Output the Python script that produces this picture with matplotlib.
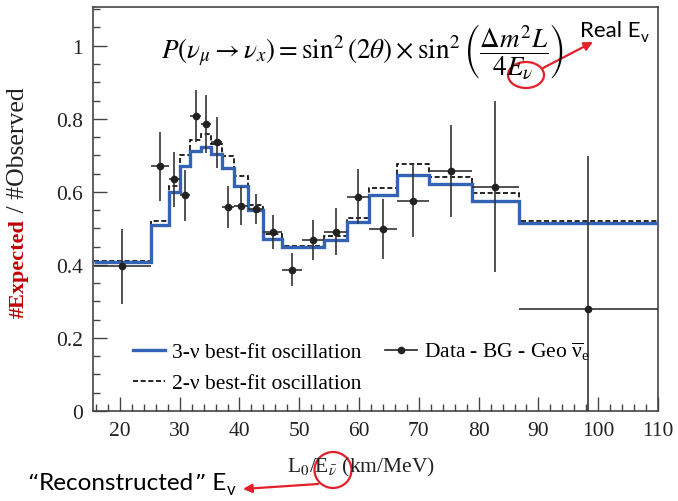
import matplotlib
matplotlib.use("Agg")
import matplotlib.pyplot as plt
from matplotlib.lines import Line2D
from matplotlib.patches import Ellipse, FancyArrowPatch
from matplotlib.ticker import MultipleLocator, FuncFormatter
import numpy as np

plt.rcParams["font.family"] = ["Liberation Serif", "DejaVu Serif"]
plt.rcParams["mathtext.fontset"] = "stix"

W, H = 678, 502

# L0/E bins (km/MeV) with the best-fit predictions and the measured ratio
bin_edges = [15.6, 25.2, 28.2, 30.0, 31.8, 33.6, 35.3, 37.1, 39.0, 41.5, 44.0,
             47.1, 50.5, 54.2, 58.0, 61.7, 66.4, 71.7, 78.9, 86.7, 110.0]
fit_3nu = [0.409, 0.508, 0.599, 0.670, 0.713, 0.724, 0.704, 0.665, 0.617, 0.551,
           0.471, 0.448, 0.448, 0.469, 0.517, 0.590, 0.647, 0.622, 0.576, 0.514]
fit_2nu = [0.412, 0.519, 0.617, 0.701, 0.742, 0.759, 0.732, 0.698, 0.642, 0.563,
           0.485, 0.452, 0.452, 0.479, 0.529, 0.611, 0.675, 0.640, 0.596, 0.521]
data_ratio = [0.396, 0.670, 0.634, 0.590, 0.807, 0.786, 0.736, 0.558, 0.561, 0.553,
              0.490, 0.387, 0.468, 0.491, 0.587, 0.499, 0.576, 0.658, 0.614, 0.278]
data_err = [0.103, 0.094, 0.076, 0.071, 0.071, 0.080, 0.070, 0.057, 0.053, 0.042,
            0.046, 0.046, 0.054, 0.065, 0.076, 0.082, 0.099, 0.126, 0.234, 0.420]

x_ticks = [20, 30, 40, 50, 60, 70, 80, 90, 100, 110]
y_ticks = [0, 0.2, 0.4, 0.6, 0.8, 1.0]

BLUE = "#3462b5"
RED = "#e3202a"
INK = "#222222"


def px(x, y):
    """Pixel position (from top-left) to figure fraction."""
    return x / W, 1 - y / H


def text_run(x, y, pieces):
    """Lay out (text, family, size, drop) pieces left to right on one baseline."""
    cur = x
    for text, family, size, drop in pieces:
        t = fig.text(cur / W, (H - y - drop) / H, text, ha="left", va="baseline",
                     fontsize=size, family=family, color="black")
        fig.canvas.draw()
        cur = t.get_window_extent().x1 + 0.3


fig = plt.figure(figsize=(W / 100, H / 100), dpi=100)
ax = fig.add_axes([93 / W, 1 - 412 / H, (658 - 93) / W, (412 - 8) / H])

edges = np.array(bin_edges)
centers = 0.5 * (edges[:-1] + edges[1:])
half_w = 0.5 * np.diff(edges)

ax.stairs(fit_2nu, edges, baseline=None, color="black", lw=1.2,
          linestyle=(0, (3, 1.6)), zorder=2)
ax.stairs(fit_3nu, edges, baseline=None, color=BLUE, lw=2.4, zorder=3)
ax.errorbar(centers, data_ratio, yerr=data_err, xerr=half_w, fmt="o",
            color=INK, ecolor="#333333", ms=4.5, elinewidth=1.2, capsize=0,
            zorder=4)

ax.set_xlim(15.5, 110)
ax.set_ylim(0, 1.106)
ax.set_xticks(x_ticks)
ax.set_yticks(y_ticks)
ax.xaxis.set_minor_locator(MultipleLocator(2))
ax.yaxis.set_minor_locator(MultipleLocator(0.05))
ax.yaxis.set_major_formatter(FuncFormatter(lambda v, p: f"{v:g}"))
ax.tick_params(which="both", direction="in", top=False, right=False,
               colors="#444444", labelcolor=INK, labelsize=15.5)
ax.tick_params(which="major", length=10, width=1.0)
ax.tick_params(which="minor", length=5, width=1.0)
ax.tick_params(axis="x", pad=7)
ax.tick_params(axis="y", pad=7)
for spine in ax.spines.values():
    spine.set_linewidth(1.2)
    spine.set_color("#444444")

handles = [
    Line2D([], [], color=BLUE, lw=2.4),
    Line2D([], [], color="black", lw=1.2, linestyle=(0, (3, 1.6))),
    Line2D([], [], color=INK, lw=1.2, marker="o", ms=4.5),
]
labels = [
    "3-\u03bd best-fit oscillation",
    "2-\u03bd best-fit oscillation",
    r"Data - BG - Geo $\overline{\mathregular{\nu}}_\mathregular{e}$",
]
ax.legend(handles, labels, ncol=2, loc="upper left",
          bbox_to_anchor=px(133, 341), bbox_transform=fig.transFigure,
          frameon=False, fontsize=15.5, handlelength=1.5, handletextpad=0.3,
          columnspacing=1.1, labelspacing=0.5, borderpad=0, borderaxespad=0)

# oscillation formula
fig.text(*px(362, 52), r"$P\left(\nu_\mu \rightarrow \nu_x\right) = \sin^2(2\theta)"
         r"\times\sin^2\left(\dfrac{\Delta m^2 L}{4E_\nu}\right)$",
         ha="center", va="center", fontsize=19.5, color="black")

# x axis label
fig.text(*px(361, 467), r"L$_0$/E$_{\bar{\nu}}$ (km/MeV)", ha="center",
         va="center", fontsize=15.5, color=INK)

# y axis label in two colours
t1 = fig.text(*px(19, 318), "#Expected", rotation=90, ha="center", va="bottom",
              fontsize=16, fontweight="bold", color="#c00000")
fig.canvas.draw()
ext = t1.get_window_extent()
fig.text(18 / W, ext.y1 / H, " / #Observed", rotation=90, ha="center",
         va="bottom", fontsize=18.5, color=INK)

# notes about the two neutrino energies
text_run(580, 37, [("Real E", "Lato", 16, 0), ("v", "Lato", 11, 5)])
text_run(27, 490, [("\u201c", "DejaVu Sans", 16, 0),
                   ("Reconstructed", "Lato", 17.5, 0),
                   ("\u201d", "DejaVu Sans", 16, 0),
                   (" E", "Lato", 17.5, 0),
                   ("v", "Lato", 12, 5)])

for cx, cy, ew, eh in [(526, 76, 36, 26), (333, 471, 37, 36)]:
    fig.add_artist(Ellipse(px(cx, cy), ew / W, eh / H, transform=fig.transFigure,
                           fill=False, ec=RED, lw=1.6))

for start, end in [((543, 69), (593, 43)), ((318, 485), (243, 490))]:
    fig.add_artist(FancyArrowPatch(px(*start), px(*end), transform=fig.transFigure,
                                   arrowstyle="-|>", mutation_scale=13,
                                   color=RED, lw=1.6, shrinkA=0, shrinkB=0))

fig.savefig("out.png", dpi=100)
